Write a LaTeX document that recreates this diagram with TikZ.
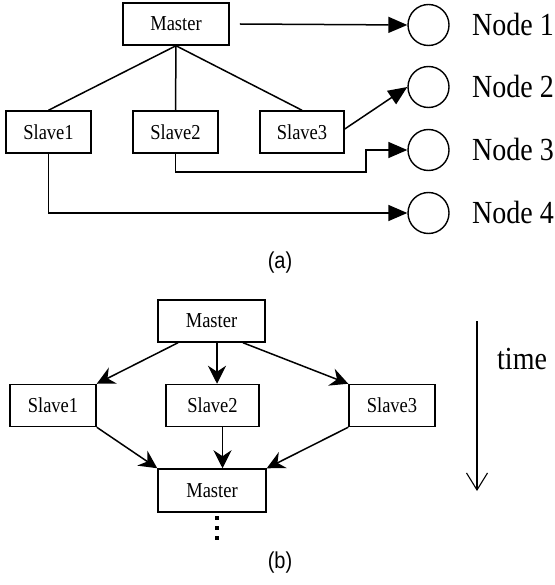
\documentclass[tikz,border=0pt]{standalone}
\usepackage{fontspec}
\usepackage{graphicx}
\setmainfont{Liberation Serif}
\setsansfont{Liberation Sans}
\usetikzlibrary{arrows.meta,calc}

% text is drawn slightly taller than wide
\newcommand{\tallText}[1]{\scalebox{1}[1.15]{#1}}

\tikzset{
  box/.style={draw, line width=1.5pt, inner sep=0pt, minimum height=42pt,
    font=\fontsize{18.5}{18.5}\selectfont},
  peer/.style={draw, circle, line width=1.4pt, inner sep=0pt, minimum size=41pt},
  peerlabel/.style={anchor=west, inner sep=0pt, font=\fontsize{28}{28}\selectfont},
  caption/.style={inner sep=0pt, font=\sffamily\fontsize{20}{20}\selectfont},
  link/.style={line width=1.5pt},
  sendto/.style={link, -{Triangle[length=19pt,width=16pt]}},
  flow/.style={link, -{Stealth[length=18pt,width=18pt,inset=6pt]}},
  timeline/.style={line width=1.1pt, -{Straight Barb[length=17pt,width=21pt,line width=1.1pt]}},
}

\begin{document}
\begin{tikzpicture}[x=1pt,y=-1pt]
\useasboundingbox (0,0) rectangle (554,585);

% ---------- (a) master / slaves distributing work to nodes ----------
\node[box, minimum width=106pt] (ma) at (176,24) {\tallText{Master}};
\node[box, minimum width=85pt] (sa1) at (48.5,132) {\tallText{Slave1}};
\node[box, minimum width=85pt] (sa2) at (175.5,132) {\tallText{Slave2}};
\node[box, minimum width=84pt] (sa3) at (302,132) {\tallText{Slave3}};

\node[peer] (n1) at (428.5,25) {};
\node[peer] (n2) at (428.5,87) {};
\node[peer] (n3) at (428.5,150) {};
\node[peer] (n4) at (428.5,213) {};

\node[peerlabel] (l1) at (472,24) {\tallText{Node 1}};
\node[peerlabel] (l2) at (472,86) {\tallText{Node 2}};
\node[peerlabel] (l3) at (472,149) {\tallText{Node 3}};
\node[peerlabel] (l4) at (472,212) {\tallText{Node 4}};

\draw[link] (ma.south) -- (sa1.north);
\draw[link] (ma.south) -- (sa2.north);
\draw[link] (ma.south) -- (sa3.north);

\draw[sendto] ([xshift=10pt]ma.east) -- (n1.west);
\draw[sendto] ([yshift=3pt]sa3.east) -- (n2.west);
\coordinate (jog) at (366,172);
\draw[sendto] (sa2.south) |- (jog) |- (n3.west);
\draw[sendto] (sa1.south) |- (n4.west);

\node[caption] (capa) at (280,263) {\tallText{(a)}};

% ---------- (b) fork / join over time ----------
\node[box, minimum width=107pt] (mb) at (211.5,321) {\tallText{Master}};
\node[box, minimum width=86pt] (sb1) at (53,405.5) {\tallText{Slave1}};
\node[box, minimum width=93pt] (sb2) at (212.5,405.5) {\tallText{Slave2}};
\node[box, minimum width=86pt] (sb3) at (392,405.5) {\tallText{Slave3}};
\node[box, minimum width=108pt, minimum height=43pt] (mc) at (212,490.5) {\tallText{Master}};

\draw[flow] ([xshift=-33.5pt]mb.south) -- (sb1.north east);
\draw[flow] ([xshift=5.5pt]mb.south) -- ([xshift=5.5pt]mb.south |- sb2.north);
\draw[flow] ([xshift=31.5pt]mb.south) -- (sb3.north west);

\draw[flow] (sb1.south east) -- (mc.north west);
\draw[flow] ([xshift=10pt]sb2.south) -- ([xshift=10pt]sb2.south |- mc.north);
\draw[flow] (sb3.south west) -- (mc.north east);

% continuation dots below the second master
\foreach \yy in {518,528,538}
  \fill (214.8,\yy-2.2) rectangle (219.2,\yy+2.2);

% time axis
\coordinate (t0) at (477,321);
\coordinate (t1) at (477,491);
\draw[timeline] (t0) -- (t1);
\node[anchor=base west, inner sep=0pt, font=\fontsize{28}{28}\selectfont] (tl) at (497,369) {\tallText{time}};

\node[caption] (capb) at (280,563) {\tallText{(b)}};
\end{tikzpicture}
\end{document}
